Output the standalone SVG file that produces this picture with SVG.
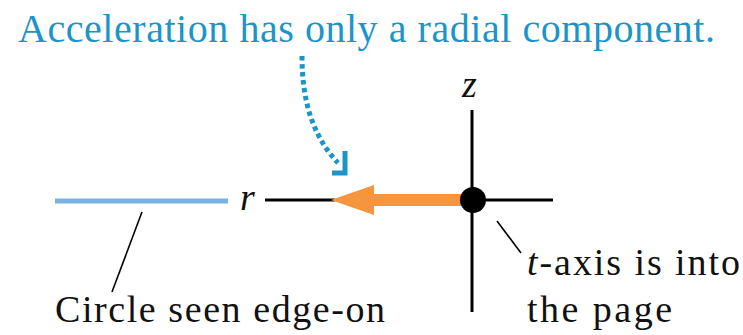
<svg xmlns="http://www.w3.org/2000/svg" width="743" height="335" viewBox="0 0 743 335">
<style>
  text { font-family: 'Liberation Serif', 'DejaVu Serif', 'Times New Roman', serif; fill: #111; }
  .title { fill: #1b95c9; font-size: 40px; }
  .lbl { font-size: 38px; }
  .ital { font-style: italic; font-size: 38px; }
  .axis { stroke: #000; stroke-width: 3; fill: none; }
  .lead { stroke: #000; stroke-width: 1.6; fill: none; }
</style>
<rect width="743" height="335" fill="#fff"/>
<text class="title" x="18" y="42" textLength="697" lengthAdjust="spacing">Acceleration has only a radial component.</text>

<g id="axes">
  <line class="axis" x1="472" y1="110" x2="472" y2="312"/>
  <line class="axis" x1="472" y1="200" x2="553" y2="200"/>
  <line class="axis" x1="265" y1="200" x2="335" y2="200"/>
  <text class="ital" x="462" y="97">z</text>
  <text class="ital" x="240" y="210">r</text>
</g>

<g id="circle-edge">
  <line x1="55" y1="201" x2="228" y2="201" stroke="#78b2e2" stroke-width="5"/>
</g>

<g id="accel-vector">
  <rect x="370" y="194" width="100" height="12" fill="#f7943e"/>
  <polygon points="331,200 374,185 374,215" fill="#f7943e"/>
</g>

<g id="particle">
  <circle cx="473" cy="200" r="13" fill="#000"/>
</g>

<g id="connectors">
  <path d="M302,56 C302,100 312,135 338,163" fill="none" stroke="#1b95c9" stroke-width="5" stroke-dasharray="4.5,3.5"/>
  <path d="M345,151 L345,173 L332,173" fill="none" stroke="#1b95c9" stroke-width="5"/>
  <line class="lead" x1="142" y1="212" x2="112" y2="292"/>
  <line class="lead" x1="497" y1="221" x2="521" y2="253"/>
</g>

<g id="labels">
  <text class="lbl" x="55" y="322" textLength="330" lengthAdjust="spacing">Circle seen edge-on</text>
  <text class="lbl" x="527" y="275" textLength="213" lengthAdjust="spacing"><tspan font-style="italic">t</tspan>-axis is into</text>
  <text class="lbl" x="527" y="322" textLength="145" lengthAdjust="spacing">the page</text>
</g>
</svg>
